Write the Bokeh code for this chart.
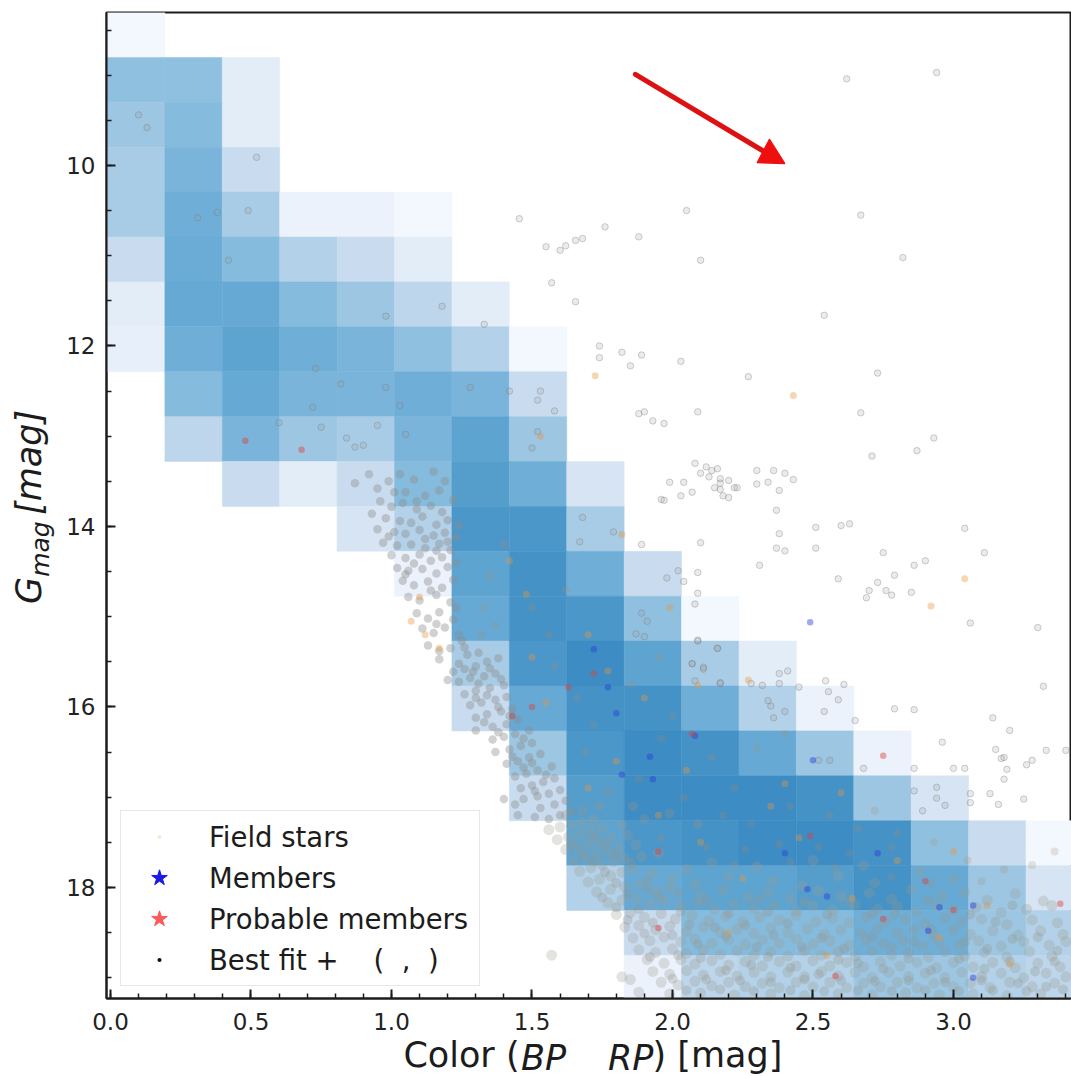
from bokeh.plotting import figure
from bokeh.models import (ColumnDataSource, LinearColorMapper, Range1d, SingleIntervalTicker, FixedTicker,
                          LinearAxis, Legend, LegendItem, NumeralTickFormatter)
from bokeh.transform import transform
from bokeh.embed import file_html
from bokeh.resources import INLINE

# Histogram bins
color_edges = [-0.0107, 0.1936, 0.3979, 0.6022, 0.8065, 1.0108, 1.2151, 1.4194, 1.6237, 1.828,
               2.0323, 2.2366, 2.4409, 2.6452, 2.8495, 3.0538, 3.2581, 3.4624]
gmag_edges = [8.305, 8.803, 9.30, 9.798, 10.295, 10.793, 11.29, 11.788, 12.285, 12.783, 13.28,
              13.778, 14.275, 14.773, 15.27, 15.768, 16.265, 16.763, 17.26, 17.758, 18.255,
              18.753, 19.25]

# Relative density per magnitude row, one value per colour bin (0 = empty)
density = [
 [1,0,0,0,0,0,0,0,0,0,0,0,0,0,0,0,0],
 [5.5,5.5,2,0,0,0,0,0,0,0,0,0,0,0,0,0,0],
 [5,6,2,0,0,0,0,0,0,0,0,0,0,0,0,0,0],
 [4.5,6.5,3,0,0,0,0,0,0,0,0,0,0,0,0,0,0],
 [4.5,7,4.5,1.5,1.5,1,0,0,0,0,0,0,0,0,0,0,0],
 [3,7.2,6,4,3,2,0,0,0,0,0,0,0,0,0,0,0],
 [2.2,7.5,7.5,6,5,3.5,2,0,0,0,0,0,0,0,0,0,0],
 [1.8,7,8,7,6.5,5.5,4,1,0,0,0,0,0,0,0,0,0],
 [0,6,7.5,6.5,6.5,7,6.5,3,0,0,0,0,0,0,0,0,0],
 [0,3.5,6.5,5,4.5,6.5,8,5,0,0,0,0,0,0,0,0,0],
 [0,0,3,2,3,6,8.5,7,2.5,0,0,0,0,0,0,0,0],
 [0,0,0,0,2.5,4,9,9,4.5,0,0,0,0,0,0,0,0],
 [0,0,0,0,0,1.5,8,9.5,7,3,0,0,0,0,0,0,0],
 [0,0,0,0,0,0,7.5,9.5,9,5.5,1,0,0,0,0,0,0],
 [0,0,0,0,0,0,4.5,9,10,8,4.5,2,0,0,0,0,0],
 [0,0,0,0,0,0,3,7.5,9.5,9.5,7,4,1.5,0,0,0,0],
 [0,0,0,0,0,0,0,5,9,10,9.5,7.5,5,1.5,0,0,0],
 [0,0,0,0,0,0,0,3,8.5,10,10,10,9.5,5,2.5,0,0],
 [0,0,0,0,0,0,0,0,8,9,9.5,10,10,9.5,5.5,3,1],
 [0,0,0,0,0,0,0,0,4,7.5,8,8,8.5,9.5,7.5,5,2.5],
 [0,0,0,0,0,0,0,0,0,3,6,6,6,7,7,5,4],
 [0,0,0,0,0,0,0,0,0,1.5,3.5,4,4,5,5,4,3.5],
]
density_stops = ["#f3f8fe", "#e3edf8", "#c9dcef", "#b3d1e8", "#9cc6e2", "#85bbdd",
                 "#6eaed7", "#5ea4d0", "#4c97c9", "#3d8cc3"]

# Sparse stars above the sequence (colour, G)
upper_stars = [
 (2.62,9.04),(2.94,8.97),(2.67,10.55),(2.82,11.02),(2.54,11.66),(2.05,10.50),(2.10,11.05),(1.455,10.59),
 (1.76,10.68),(1.88,10.79),(1.68,10.81),(1.655,10.83),(1.62,10.89),(1.55,10.90),(1.60,10.94),(1.57,11.30),
 (1.655,11.51),(1.74,12.0),(1.74,12.13),(1.82,12.07),(1.89,12.10),(1.85,12.22),(2.03,12.17),(2.27,12.34),
 (2.73,12.3),(2.67,12.74),(2.09,12.73),(1.90,12.73),(1.88,12.75),(1.93,12.83),(1.97,12.86),(2.93,13.02),
 (2.87,13.16),(2.71,13.22),(2.12,13.34),(2.14,13.38),(2.10,13.41),(2.17,13.47),(2.20,13.49),(2.22,13.57),
 (2.15,13.57),(2.23,13.57),(2.30,13.38),(2.36,13.38),(2.40,13.41),(2.43,13.48),(2.30,13.53),(2.34,13.51),
 (2.38,13.60),(2.18,13.66),(1.99,13.51),(1.96,13.70),(2.03,13.66),(2.37,13.82),(2.51,14.01),(2.60,13.99),
 (2.63,13.97),(2.38,14.08),(2.40,14.27),(2.31,14.43),(2.37,14.24),(2.51,14.24),(2.59,14.58),(2.75,14.29),
 (2.79,14.54),(2.70,14.71),(2.73,14.62),(2.76,14.71),(2.78,14.76),(2.69,14.79),(2.85,14.73),(2.90,14.38),
 (2.86,14.43),(3.04,14.02),(3.11,14.29),(3.06,15.07),(3.30,15.12),(3.32,15.77),(3.14,16.12),(3.20,16.26),
 (3.18,16.56),(3.28,16.59),(3.40,16.48),(3.04,16.68),(2.545,15.71),(2.96,16.39),(3.15,16.47),(3.17,16.57),
 (3.19,16.69),(3.18,16.80),(3.26,16.64),(3.33,16.48),(3.13,16.96),(3.06,16.96),(3.06,17.06),(3.16,17.08),
 (3.25,17.02),(3.0,16.68),(2.79,16.02),(2.86,16.03),(2.65,16.15),(2.59,15.92),(2.555,15.83),(2.54,16.05),
 (2.61,15.75),(2.45,15.78),(2.41,15.60),(2.38,15.63),(2.17,15.74),(2.28,15.74),(2.32,15.76),(2.38,15.74),
 (2.34,15.93),(2.35,15.99),(2.40,16.05),(2.36,16.12),(2.52,16.59),(2.56,16.59),(2.68,16.68),(2.86,16.68),
 (2.07,15.52),(2.11,15.58),(2.16,15.35),(2.09,15.27),(2.08,15.71),(2.94,16.89),(2.94,17.01),(2.97,17.09),
 (2.89,17.15),(2.86,16.93),(2.08,13.30),(2.13,13.45),(2.16,13.36),(2.04,13.51),(2.17,13.52),(2.07,13.62),
 (2.17,13.59),(2.20,13.68),(1.97,13.71),(2.10,14.18),(1.89,14.20),(2.09,14.51),(1.98,14.57),(2.02,14.49),
 (2.04,14.61),(2.09,14.74),(2.08,14.86),(2.09,15.26),(2.16,15.35),(2.07,15.52),(2.11,15.56),(2.17,15.73),
 (1.89,14.96),(1.91,15.05),(1.87,15.19),(1.90,15.22),(1.68,13.90),(1.79,14.06),(1.67,14.17),
 (1.53,12.5),(1.52,12.95),(1.50,13.13),(1.58,12.72),(0.10,9.44),(0.13,9.58),(0.52,9.91),(0.49,10.5),(0.38,10.52),
 (0.31,10.58),(0.42,11.05),(0.98,11.67),(1.33,11.76),(1.18,11.56),(0.73,12.25),(0.82,12.42),(0.98,12.46),
 (1.03,12.66),(0.72,12.68),(1.28,12.46),(1.42,12.5),(1.52,12.6),(0.60,12.85),(0.75,12.9),(0.95,12.88),(1.05,12.98),
 (0.84,13.02),(0.90,13.1),(0.87,13.12),
]

# Stars on the blue edge of the sequence, G about 13 to 17.3
edge_stars = [
 (0.87,13.52),(0.92,13.42),(0.95,13.58),(0.99,13.5),(1.03,13.42),(1.08,13.48),(1.15,13.39),(1.19,13.5),(1.05,13.62),(1.12,13.66),
 (0.96,13.72),(1.00,13.78),(1.04,13.74),(1.09,13.81),(1.14,13.77),(1.18,13.84),(1.22,13.71),(0.93,13.86),(0.98,13.91),(1.03,13.94),
 (1.07,13.96),(1.11,13.89),(1.16,13.98),(1.2,13.93),(1.24,13.99),(0.95,14.03),(1.01,14.06),(1.05,14.08),(1.1,14.04),(1.15,14.1),
 (1.19,14.07),(1.23,14.12),(0.97,14.18),(1.02,14.21),(1.07,14.2),(1.12,14.24),(1.17,14.19),(1.21,14.26),(1.0,14.32),(1.05,14.35),
 (1.1,14.31),(1.14,14.38),(1.18,14.34),(1.23,14.4),(1.02,14.46),(1.06,14.49),(1.11,14.47),(1.16,14.52),(1.2,14.45),(1.04,14.6),
 (1.08,14.65),(1.13,14.61),(1.18,14.68),(1.22,14.59),(1.06,14.78),(1.1,14.82),(1.16,14.76),(1.21,14.84),(1.09,14.96),(1.13,15.02),
 (1.17,14.95),(1.22,15.03),(1.11,15.13),(1.15,15.18),(1.19,15.12),(1.24,15.2),(1.13,15.32),(1.17,15.38),(1.21,15.35),(1.26,15.34),
 (1.17,15.47),(1.2,15.7),(1.24,15.52),(1.27,15.42),(1.31,15.4),(1.26,15.58),(1.3,15.55),(1.34,15.5),(1.38,15.46),(1.24,15.72),
 (1.28,15.68),(1.33,15.66),(1.37,15.63),(1.26,15.86),(1.3,15.82),(1.35,15.79),(1.4,15.76),(1.28,15.98),(1.32,15.95),(1.37,15.92),
 (1.41,15.89),(1.3,16.12),(1.34,16.08),(1.39,16.05),(1.43,16.02),(1.3,16.26),(1.36,16.22),(1.41,16.19),(1.45,16.14),(1.36,16.36),
 (1.4,16.33),(1.44,16.3),(1.49,16.26),(1.37,16.5),(1.42,16.47),(1.46,16.43),(1.5,16.4),(1.41,16.63),(1.45,16.6),(1.49,16.56),
 (1.53,16.52),(1.44,16.77),(1.48,16.74),(1.52,16.7),(1.57,16.66),(1.46,16.9),(1.5,16.87),(1.54,16.83),(1.58,16.79),(1.47,17.02),
 (1.52,16.99),(1.56,16.96),(1.6,16.92),(1.44,17.08),(1.53,17.12),(1.58,17.08),(1.62,17.04),(1.51,17.22),(1.56,17.24),(1.6,17.2),
 (1.64,17.16),(1.4,17.02),(1.45,17.2),
 (1.01,13.62),(1.17,13.6),(1.09,13.72),(0.99,14.11),(1.12,14.14),(1.08,14.41),(1.2,14.17),(1.16,14.27),(1.14,14.71),(1.05,14.53),
 (1.23,14.9),(1.16,15.08),(1.25,15.27),(1.29,15.61),(1.22,15.61),(1.35,15.57),(1.31,15.74),(1.39,15.69),(1.34,15.87),(1.3,15.9),
 (1.38,16.0),(1.33,16.17),(1.42,16.1),(1.38,16.28),(1.47,16.35),(1.43,16.55),(1.5,16.62),(1.47,16.67),(1.55,16.75),(1.51,16.93),
]

# Lower main sequence, G about 17.3 to 19.2
lower_stars = [
 (1.56,17.36),(1.6,17.33),(1.64,17.31),(1.68,17.28),(1.72,17.25),(1.59,17.47),(1.63,17.44),(1.67,17.41),(1.71,17.38),(1.75,17.34),
 (1.82,17.31),(1.62,17.58),(1.66,17.55),(1.7,17.52),(1.74,17.49),(1.78,17.45),(1.84,17.42),(1.65,17.7),(1.69,17.67),(1.73,17.63),
 (1.77,17.6),(1.81,17.56),(1.87,17.53),(1.95,17.62),(1.67,17.82),(1.71,17.78),(1.75,17.75),(1.79,17.71),(1.83,17.68),(1.89,17.66),
 (2.05,17.8),(2.14,17.72),(2.3,17.77),(2.5,17.7),(2.68,17.76),(1.7,17.94),(1.74,17.91),(1.78,17.87),(1.82,17.83),(1.86,17.8),
 (1.93,17.84),(2.0,17.9),(2.08,17.96),(2.2,17.88),(2.36,17.93),(2.46,17.98),(2.59,17.87),(2.72,17.95),(2.88,17.82),(3.0,17.91),
 (1.73,18.05),(1.78,18.02),(1.83,17.99),(1.88,17.96),(1.94,18.04),(1.99,18.0),(2.1,18.08),(2.18,18.03),(2.27,18.11),(2.34,18.05),
 (2.42,18.12),(2.52,18.04),(2.6,18.1),(2.7,18.06),(2.78,18.13),(2.85,18.02),(2.96,18.09),(3.04,18.05),(3.12,18.14),(3.22,18.07),(3.32,18.15),
 (1.77,18.17),(1.82,18.14),(1.87,18.12),(1.92,18.18),(1.97,18.15),(2.03,18.2),(2.09,18.17),(2.15,18.24),(2.22,18.18),(2.29,18.23),
 (2.36,18.19),(2.44,18.26),(2.5,18.2),(2.57,18.25),(2.65,18.19),(2.73,18.24),(2.8,18.21),(2.87,18.27),(2.94,18.2),(3.0,18.25),
 (3.08,18.22),(3.17,18.28),(3.26,18.24),(3.35,18.2),
 (1.8,18.3),(1.85,18.28),(1.9,18.33),(1.96,18.29),(2.01,18.35),(2.07,18.31),(2.13,18.37),(2.19,18.32),(2.25,18.38),(2.31,18.33),
 (2.38,18.36),(2.44,18.31),(2.51,18.38),(2.57,18.34),(2.63,18.39),(2.69,18.33),(2.76,18.38),(2.83,18.35),(2.9,18.4),(2.97,18.34),
 (3.03,18.38),(3.1,18.35),(3.19,18.41),(3.28,18.36),(3.37,18.39),
 (1.83,18.44),(1.88,18.42),(1.94,18.47),(1.99,18.43),(2.05,18.49),(2.11,18.44),(2.17,18.5),(2.23,18.46),(2.29,18.51),(2.35,18.45),
 (2.41,18.5),(2.48,18.46),(2.54,18.52),(2.6,18.47),(2.67,18.51),(2.73,18.45),(2.8,18.5),(2.86,18.47),(2.93,18.53),(3.0,18.47),
 (3.06,18.52),(3.14,18.48),(3.23,18.53),(3.31,18.48),(3.39,18.52),
 (1.86,18.56),(1.92,18.59),(1.97,18.55),(2.03,18.6),(2.08,18.57),(2.14,18.62),(2.2,18.58),(2.26,18.63),(2.32,18.58),(2.38,18.62),
 (2.44,18.57),(2.5,18.63),(2.56,18.59),(2.63,18.64),(2.69,18.58),(2.75,18.62),(2.82,18.59),(2.89,18.65),(2.95,18.6),(3.02,18.64),
 (3.09,18.59),(3.17,18.65),(3.25,18.6),(3.34,18.64),(3.4,18.6),
 (1.88,18.69),(1.94,18.72),(2.0,18.68),(2.05,18.73),(2.11,18.69),(2.17,18.74),(2.23,18.7),(2.29,18.75),(2.35,18.71),(2.41,18.76),
 (2.47,18.7),(2.53,18.75),(2.59,18.71),(2.65,18.76),(2.71,18.7),(2.78,18.75),(2.84,18.72),(2.91,18.77),(2.97,18.71),(3.04,18.76),
 (3.11,18.72),(3.19,18.77),(3.27,18.71),(3.35,18.76),
 (1.91,18.8),(1.97,18.84),(2.03,18.8),(2.08,18.85),(2.14,18.81),(2.2,18.86),(2.26,18.82),(2.32,18.87),(2.38,18.82),(2.44,18.87),
 (2.5,18.81),(2.56,18.87),(2.62,18.83),(2.68,18.88),(2.74,18.82),(2.81,18.87),(2.87,18.83),(2.94,18.89),(3.0,18.83),(3.07,18.88),
 (3.14,18.83),(3.22,18.89),(3.3,18.84),(3.38,18.88),
 (1.93,18.93),(1.99,18.96),(2.05,18.92),(2.11,18.97),(2.17,18.93),(2.23,18.98),(2.29,18.94),(2.35,18.99),(2.41,18.94),(2.47,18.99),
 (2.53,18.93),(2.59,18.98),(2.65,18.94),(2.71,19.0),(2.77,18.94),(2.84,18.99),(2.9,18.95),(2.97,19.0),(3.03,18.94),(3.1,18.99),
 (3.17,18.95),(3.25,19.0),(3.33,18.95),(3.4,18.99),
 (1.96,19.05),(2.02,19.08),(2.08,19.04),(2.14,19.09),(2.2,19.05),(2.26,19.1),(2.32,19.06),(2.38,19.11),(2.44,19.05),(2.5,19.1),
 (2.56,19.05),(2.62,19.11),(2.68,19.06),(2.74,19.1),(2.8,19.05),(2.87,19.11),(2.93,19.06),(3.0,19.1),(3.06,19.06),(3.13,19.11),
 (3.2,19.05),(3.28,19.1),(3.36,19.06),(1.88,19.16),(1.99,19.18),(2.1,19.17),(2.22,19.19),(2.35,19.18),(2.47,19.2),(2.59,19.18),
 (2.71,19.19),(2.83,19.17),(2.95,19.19),(3.07,19.18),(3.19,19.2),(3.31,19.18),
 (1.57,18.75),(1.82,18.99),(1.85,19.02),
]
# Denser, irregular patches of the same sequence
lower_patches = [
 (1.64,17.52),(1.72,17.44),(1.68,17.62),(1.76,17.53),(1.72,17.71),(1.8,17.64),(1.76,17.83),(1.85,17.73),(1.8,17.95),(1.91,17.92),
 (1.75,18.11),(1.84,18.07),(1.91,18.02),(1.8,18.22),(1.88,18.24),(1.95,18.1),(2.02,18.06),(1.84,18.36),(1.93,18.39),(2.03,18.27),
 (2.12,18.15),(2.2,18.29),(2.31,18.13),(2.06,18.41),(2.15,18.44),(2.26,18.42),(2.34,18.27),(2.47,18.16),(2.41,18.4),(2.55,18.3),
 (2.63,18.16),(2.71,18.29),(2.79,18.3),(2.91,18.14),(3.06,18.3),(3.15,18.38),(3.21,18.2),(1.9,18.51),(2.0,18.53),(2.09,18.63),
 (2.19,18.54),(2.3,18.66),(2.36,18.53),(2.46,18.66),(2.53,18.56),(2.61,18.68),(2.71,18.55),(2.78,18.66),(2.86,18.6),(2.92,18.46),
 (3.04,18.6),(3.12,18.68),(3.21,18.57),(3.3,18.55),(3.37,18.7),(1.92,18.77),(2.02,18.75),(2.1,18.78),(2.19,18.92),(2.28,18.86),
 (2.34,18.77),(2.42,18.89),(2.52,18.96),(2.59,18.8),(2.66,18.84),(2.75,18.9),(2.84,18.79),(2.92,18.92),(3.02,18.79),(3.11,18.9),
 (3.2,18.82),(3.29,18.93),(3.36,18.82),(2.0,19.01),(2.12,19.02),(2.24,19.03),(2.35,19.05),(2.47,19.02),(2.6,19.03),(2.72,19.04),
 (2.84,19.03),(2.97,19.05),(3.1,19.03),(3.23,19.06),(3.33,19.1),(2.05,19.14),(2.17,19.13),(2.29,19.15),(2.42,19.14),(2.54,19.15),
 (2.66,19.14),(2.78,19.15),(2.9,19.14),(3.02,19.15),(3.14,19.14),(3.26,19.15),(3.39,19.13),
 (1.62,17.2),(1.68,17.15),(1.74,17.1),(1.9,17.24),(1.99,17.18),(2.09,17.3),(1.86,17.1),
]
# Faint tinted stars over the densest bins
faint_stars = [
 (1.35,14.55),(1.4,14.2),(1.33,14.9),(1.37,15.1),(1.32,15.2),(1.5,14.9),(1.56,15.2),(1.62,14.7),(1.58,15.55),(1.66,15.9),
 (1.72,16.2),(1.69,16.5),(1.85,15.75),(1.95,15.45),(2.0,16.1),(1.96,16.35),(2.14,16.55),(2.22,16.9),(2.3,16.45),(2.4,16.3),
 (1.88,16.8),(1.77,16.95),(2.04,17.0),(2.18,17.2),(2.28,17.3),(2.42,17.1),(2.56,17.2),(2.66,17.35),(2.72,17.15),(2.8,17.4),
 (1.96,17.45),(2.12,17.55),(2.26,17.58),(2.38,17.52),(2.52,17.55),(2.63,17.62),(2.78,17.55),(2.93,17.5),(3.05,17.7),(3.18,17.8),
 (2.22,17.75),(2.42,17.72),(2.58,17.78),(2.78,17.88),(2.92,17.95),(3.1,17.93),(3.28,17.75),(3.36,17.6),
]

# Orange-tinted field stars
field_stars = [
 (1.725,12.33),(1.53,13.0),(1.82,14.09),(1.99,14.9),(2.43,12.55),(3.04,14.58),(2.92,14.88),(1.1,14.78),(1.07,15.05),(1.12,15.2),
 (2.09,15.76),(2.27,15.7),(1.17,15.35),(1.42,14.38),(1.48,14.75),(1.5,15.45),(1.55,15.95),(1.77,15.6),(1.9,15.9),(2.05,16.7),
 (2.35,17.1),(2.6,16.95),(2.1,17.5),(1.95,17.2),(2.8,17.7),(3.0,17.6),(2.45,17.45),(1.8,16.6),(1.7,16.9),(2.25,17.9),
 (2.64,18.12),(3.12,18.2),(2.2,18.5),(2.55,18.75),(2.95,18.55),(3.2,18.85),(1.7,15.2),(2.4,16.85),
]
# Cluster members
member_stars = [
 (2.49,15.06),(2.5,16.59),(2.73,17.62),(1.72,15.36),(1.8,16.07),(1.77,15.78),(1.93,16.8),(1.82,16.75),(2.08,16.32),
 (2.48,18.02),(2.55,18.1),(2.91,18.48),(2.95,18.22),(3.07,18.2),(1.92,16.55),(2.4,17.62),(3.07,19.0),
]
# Probable members
probable_stars = [
 (0.68,13.15),(0.48,13.05),(2.75,16.54),(1.72,15.63),(1.5,16.0),(1.63,15.78),(1.95,17.6),(2.07,16.3),(2.49,17.43),(3.0,18.25),
 (2.9,17.93),(3.38,18.18),(2.58,18.98),(1.43,16.1),(1.95,18.45),(2.75,18.35),
]

# Arrow vertices
arrow_shaft_x = [1.868, 2.32]
arrow_shaft_y = [8.99, 9.834]
arrow_head_x = [2.345, 2.302, 2.399]
arrow_head_y = [9.712, 9.967, 9.978]

# Legend entries
legend_labels = ["Field stars", "Members", "Probable members", "Best fit +    (  ,  )"]
off_plot_x, off_plot_y = [-9.0], [30.0]

# Axis titles, placed piece by piece
xtitle_roman = {1.249: "Color (", 2.16: ") [mag]"}
xtitle_italic = {1.541: "BP", 1.851: "RP"}
ytitle_large = {14.71: "G", 13.29: "[mag]"}
ytitle_sub = {14.25: "mag"}

x_ticks_interval, y_ticks_interval = 0.5, 2
INK = "#1c1c1c"

def hex_rgb(h):
    return [int(h[i:i + 2], 16) for i in (1, 3, 5)]

# Continuous palette between the density stops
palette = []
for a, b in zip(density_stops[:-1], density_stops[1:]):
    ca, cb = hex_rgb(a), hex_rgb(b)
    for k in range(4):
        palette.append("#%02x%02x%02x" % tuple(round(u + (w - u) * k / 4) for u, w in zip(ca, cb)))
palette.append(density_stops[-1])

p = figure(width=1071, height=1076, output_backend="svg", toolbar_location=None,
           x_range=Range1d(-0.0142, 3.42), y_range=Range1d(19.23, 8.305),
           min_border_left=106, min_border_right=0, min_border_top=12, min_border_bottom=78,
           background_fill_color="white", border_fill_color="white")
p.frame_width = 965
p.frame_height = 986
p.grid.visible = False
p.outline_line_color = INK
p.outline_line_width = 2

for ax, tick, minors in ((p.xaxis[0], x_ticks_interval, 5), (p.yaxis[0], y_ticks_interval, 4)):
    ax.ticker = SingleIntervalTicker(interval=tick, num_minor_ticks=minors)
    ax.major_tick_in = 9
    ax.major_tick_out = 0
    ax.minor_tick_in = 5
    ax.minor_tick_out = 0
    ax.axis_line_color = INK
    ax.axis_line_width = 2
    ax.major_tick_line_color = INK
    ax.major_tick_line_width = 2
    ax.minor_tick_line_color = INK
    ax.minor_tick_line_width = 1.5
    ax.major_label_text_font = "DejaVu Sans"
    ax.major_label_text_font_size = "23px"
    ax.major_label_text_color = "#222222"
p.xaxis[0].major_label_standoff = 14
p.yaxis[0].major_label_standoff = 11
p.xaxis[0].formatter = NumeralTickFormatter(format="0.0")

def title_axis(side, labels, size, style, standoff, orientation="horizontal"):
    ax = LinearAxis(ticker=FixedTicker(ticks=list(labels)), major_label_overrides=labels,
                    axis_line_color=None, major_tick_line_color=None, minor_tick_line_color=None,
                    major_tick_in=0, major_tick_out=0, minor_tick_in=0, minor_tick_out=0,
                    major_label_text_font="DejaVu Sans", major_label_text_font_size=size,
                    major_label_text_font_style=style, major_label_text_color=INK,
                    major_label_standoff=standoff, major_label_orientation=orientation)
    p.add_layout(ax, side)

title_axis("below", xtitle_roman, "35px", "normal", 2)
title_axis("below", xtitle_italic, "35px", "italic", -40)
title_axis("left", ytitle_large, "35px", "italic", 14, "vertical")
title_axis("left", ytitle_sub, "25px", "italic", -49, "vertical")

# 2D histogram
cx, cy, cw, ch, cv = [], [], [], [], []
for r, row in enumerate(density):
    for c, v in enumerate(row):
        if v > 0:
            cx.append((color_edges[c] + color_edges[c + 1]) / 2)
            cy.append((gmag_edges[r] + gmag_edges[r + 1]) / 2)
            cw.append(color_edges[c + 1] - color_edges[c])
            ch.append(gmag_edges[r + 1] - gmag_edges[r])
            cv.append(v)
mapper = LinearColorMapper(palette=palette, low=1, high=10)
p.rect(x="x", y="y", width="w", height="h", source=ColumnDataSource(dict(x=cx, y=cy, w=cw, h=ch, v=cv)),
       fill_color=transform("v", mapper), line_color=transform("v", mapper), line_width=0.5)

def cols(points):
    return [a for a, _ in points], [b for _, b in points]

xs, ys = cols(upper_stars)
p.scatter(xs, ys, marker="circle", size=6.5, fill_color="#999999", fill_alpha=0.2,
          line_color="#777777", line_alpha=0.35, line_width=1)
xs, ys = cols(faint_stars)
p.scatter(xs, ys, marker="circle", size=8, fill_color="#a88e74", fill_alpha=0.22, line_color=None)
xs, ys = cols(edge_stars)
p.scatter(xs, ys, marker="circle", size=8.5, fill_color="#8c8c8c", fill_alpha=0.4, line_color=None)
xs, ys = cols(lower_stars)
p.scatter(xs, ys, marker="circle", size=11, fill_color="#9b9b90", fill_alpha=0.28, line_color=None)
xs, ys = cols(lower_patches)
p.scatter(xs, ys, marker="circle", size=10, fill_color="#94948a", fill_alpha=0.3, line_color=None)

fx, fy = cols(field_stars)
p.scatter(fx, fy, marker="circle", size=7, fill_color="#e8963c", fill_alpha=0.38, line_color=None)
mx, my = cols(member_stars)
p.scatter(mx, my, marker="circle", size=6.5, fill_color="#2f3fd8", fill_alpha=0.45, line_color=None)
qx, qy = cols(probable_stars)
p.scatter(qx, qy, marker="circle", size=6.5, fill_color="#e0403c", fill_alpha=0.45, line_color=None)

p.line(arrow_shaft_x, arrow_shaft_y, line_color="#dd1111", line_width=5, line_cap="round")
p.patch(arrow_head_x, arrow_head_y, fill_color="#f00f0f", line_color="#f00f0f", line_width=1.5, line_join="round")

r_field = p.scatter(off_plot_x, off_plot_y, marker="dot", size=9, fill_color="#f6ead0", line_color="#f6ead0", line_width=3)
r_member = p.scatter(off_plot_x, off_plot_y, marker="star", size=21, fill_color="#1a1ae6", line_color="#1a1ae6")
r_probable = p.scatter(off_plot_x, off_plot_y, marker="star", size=21, fill_color="#fb5a5a", line_color="#fb5a5a")
r_fit = p.scatter(off_plot_x, off_plot_y, marker="dot", size=5, fill_color="#111111", line_color="#111111", line_width=1.5)
legend = Legend(items=[LegendItem(label=t, renderers=[r]) for t, r in
                       zip(legend_labels, [r_field, r_member, r_probable, r_fit])],
                location=(14, 12), orientation="vertical", margin=0, padding=5, spacing=0,
                glyph_width=66, glyph_height=41, label_height=41, label_width=265, label_standoff=17,
                label_text_font="DejaVu Sans", label_text_font_size="27.5px", label_text_color=INK,
                border_line_color="#cfcfcf", border_line_width=1.5, background_fill_color="white",
                background_fill_alpha=0.85)
p.add_layout(legend, "center")

open("out.html", "w").write(file_html(p, INLINE))
